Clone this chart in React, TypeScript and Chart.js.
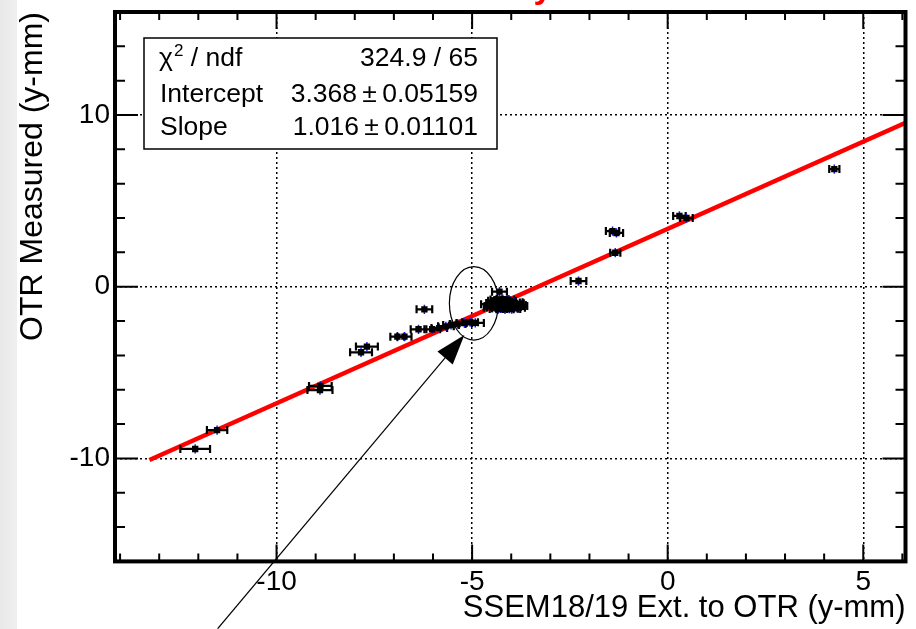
import React, { useEffect, useRef } from "react";
import { Chart, registerables } from "chart.js";

Chart.register(...registerables);

// ---- data ----
const pointX = [
  -12.08, -11.52, -8.88, -8.89, -7.84, -7.69, -6.91, -6.73, -6.22, -6.37,
  -6.02, -5.84, -5.67, -5.54, -5.37, -5.2, -5.05, -4.92,
  -4.3,
  -2.28, -1.41, -1.31, -1.34, 0.3, 0.48, 4.26,
  -4.5, -4.46, -4.42, -4.4, -4.37, -4.34, -4.31, -4.28, -4.26, -4.23,
  -4.2, -4.18, -4.15, -4.12, -4.1, -4.07, -4.05, -4.02, -4.0, -3.97,
  -3.95, -3.92, -3.9, -3.87, -3.85, -3.82, -4.48, -4.38, -4.22, -4.08,
  -4.33, -4.16, -3.99, -4.44, -4.27, -4.13, -3.93, -4.03, -4.19, -4.36, -4.11,
];
const pointY = [
  -9.45, -8.35, -5.78, -6.02, -3.82, -3.49, -2.91, -2.91, -1.32, -2.48,
  -2.48, -2.41, -2.31, -2.23, -2.17, -2.11, -2.07, -2.11,
  -0.29,
  0.33, 3.24, 3.13, 1.98, 4.12, 4.0, 6.85,
  -1.02, -1.12, -0.95, -1.2, -1.08, -0.85, -1.0, -1.16, -0.78, -1.1,
  -0.93, -1.24, -1.03, -0.88, -1.14, -0.99, -1.28, -1.06, -0.92, -1.18,
  -1.02, -1.12, -0.97, -1.22, -1.06, -1.12, -1.22, -0.74, -0.72, -0.76,
  -1.3, -1.32, -1.3, -0.82, -1.26, -1.2, -0.9, -0.84, -1.06, -0.98, -1.1,
];
const pointXErr = [
  0.38, 0.26, 0.29, 0.32, 0.28, 0.28, 0.18, 0.18, 0.2, 0.2,
  0.2, 0.2, 0.2, 0.2, 0.2, 0.2, 0.2, 0.22,
  0.19,
  0.2, 0.17, 0.17, 0.13, 0.16, 0.16, 0.13,
  0.27, 0.22, 0.22, 0.22, 0.22, 0.15, 0.22, 0.22, 0.15, 0.22,
  0.22, 0.22, 0.22, 0.15, 0.22, 0.22, 0.22, 0.22, 0.22, 0.22,
  0.22, 0.22, 0.22, 0.22, 0.22, 0.23, 0.22, 0.15, 0.15, 0.15,
  0.22, 0.22, 0.22, 0.15, 0.22, 0.22, 0.22, 0.15, 0.22, 0.22, 0.22,
];
const pointYErrAll = 0.27;

const fitIntercept = 3.368;
const fitSlope = 1.016;
const fitXRange = [-13.25, 6.08];

const xRange = [-14.13, 6.08];
const yRange = [-16, 16];
const xTickStep = 5;
const yTickStep = 10;

const xTitle = "SSEM18/19 Ext. to OTR (y-mm)";
const yTitle = "OTR Measured (y-mm)";
const statsLabels = ["χ", "Intercept", "Slope"];
const statsValues = ["324.9 / 65", "3.368\u2009±\u20090.05159", "1.016\u2009±\u20090.01101"];

// annotation (data coordinates)
const ellipseCenter = [-4.955, -0.967];
const ellipseRadii = [0.626, 2.14];
const arrowStart = [-11.505, -19.92];
const arrowTip = [-5.198, -2.813];

const FONT = "'Liberation Sans', Arial, Helvetica, sans-serif";

const backgroundPlugin = {
  id: "bgPlugin",
  beforeDraw(chart: any) {
    const { ctx, width, height } = chart;
    ctx.save();
    ctx.fillStyle = "#ffffff";
    ctx.fillRect(0, 0, width, height);
    const g = ctx.createLinearGradient(0, 0, 17, 0);
    g.addColorStop(0, "#e9e9e9");
    g.addColorStop(1, "#efefef");
    ctx.fillStyle = g;
    ctx.fillRect(0, 0, 17, height);
    // cut-off red title (only the descender remains visible)
    ctx.fillStyle = "#ff0000";
    ctx.font = `bold 34px ${FONT}`;
    ctx.textAlign = "center";
    ctx.textBaseline = "alphabetic";
    ctx.fillText("y", 543, -2);
    ctx.restore();
  },
};

const errorBarPlugin = {
  id: "errorBars",
  beforeDatasetDraw(chart: any, args: any) {
    if (args.index !== 1) return;
    const { ctx, chartArea: a, scales } = chart;
    const x = scales.x;
    const y = scales.y;
    ctx.save();
    ctx.beginPath();
    ctx.rect(a.left, a.top, a.right - a.left, a.bottom - a.top);
    ctx.clip();
    for (let i = 0; i < pointX.length; i++) {
      const cy = y.getPixelForValue(pointY[i]);
      const cx = x.getPixelForValue(pointX[i]);
      const x0 = x.getPixelForValue(pointX[i] - pointXErr[i]);
      const x1 = x.getPixelForValue(pointX[i] + pointXErr[i]);
      ctx.strokeStyle = "#000";
      ctx.lineWidth = 2.2;
      ctx.beginPath();
      ctx.moveTo(x0, cy);
      ctx.lineTo(x1, cy);
      ctx.moveTo(x0, cy - 4);
      ctx.lineTo(x0, cy + 4);
      ctx.moveTo(x1, cy - 4);
      ctx.lineTo(x1, cy + 4);
      ctx.stroke();
      const y0 = y.getPixelForValue(pointY[i] + pointYErrAll);
      const y1 = y.getPixelForValue(pointY[i] - pointYErrAll);
      ctx.strokeStyle = "#1a1aff";
      ctx.lineWidth = 1.5;
      ctx.beginPath();
      ctx.moveTo(cx, y0);
      ctx.lineTo(cx, y1);
      ctx.stroke();
    }
    ctx.restore();
  },
};

const frameAndAnnotations = {
  id: "frameAnno",
  afterDraw(chart: any) {
    const { ctx, chartArea: a, scales } = chart;
    const x = scales.x;
    const y = scales.y;
    ctx.save();
    // inner ticks
    ctx.strokeStyle = "#000";
    ctx.lineWidth = 2;
    ctx.beginPath();
    for (let v = Math.ceil(x.min); v <= Math.floor(x.max); v++) {
      const px = x.getPixelForValue(v);
      const len = v % 5 === 0 ? 17 : 8;
      ctx.moveTo(px, a.bottom);
      ctx.lineTo(px, a.bottom - len);
      ctx.moveTo(px, a.top);
      ctx.lineTo(px, a.top + len);
    }
    for (let v = yRange[0] + 2; v < yRange[1]; v += 2) {
      const py = y.getPixelForValue(v);
      const len = v % 10 === 0 ? 23 : 10;
      ctx.moveTo(a.left, py);
      ctx.lineTo(a.left + len, py);
      ctx.moveTo(a.right, py);
      ctx.lineTo(a.right - len, py);
    }
    ctx.stroke();
    // frame
    ctx.lineWidth = 4;
    ctx.strokeRect(a.left, a.top, a.right - a.left, a.bottom - a.top);

    // stats box
    const bx = 144, by = 38, bw = 353, bh = 111;
    ctx.fillStyle = "#fff";
    ctx.fillRect(bx, by, bw, bh);
    ctx.lineWidth = 1.5;
    ctx.strokeStyle = "#000";
    ctx.strokeRect(bx, by, bw, bh);
    ctx.fillStyle = "#000";
    const baselines = [65.5, 101.5, 135];
    const fs = 26.5;
    ctx.textBaseline = "alphabetic";
    for (let i = 0; i < 3; i++) {
      ctx.font = `${fs}px ${FONT}`;
      ctx.textAlign = "left";
      if (i === 0) {
        ctx.fillText(statsLabels[0], 159, baselines[0]);
        const w = ctx.measureText(statsLabels[0]).width;
        ctx.font = `17px ${FONT}`;
        ctx.fillText("2", 159 + w + 1, baselines[0] - 10);
        const w2 = ctx.measureText("2").width;
        ctx.font = `${fs}px ${FONT}`;
        ctx.fillText(" / ndf", 159 + w + 1 + w2, baselines[0]);
      } else {
        ctx.fillText(statsLabels[i], 160, baselines[i]);
      }
      ctx.textAlign = "right";
      ctx.fillText(statsValues[i], 478, baselines[i]);
    }

    // ellipse
    const ecx = x.getPixelForValue(ellipseCenter[0]);
    const ecy = y.getPixelForValue(ellipseCenter[1]);
    const erx = Math.abs(x.getPixelForValue(ellipseCenter[0] + ellipseRadii[0]) - ecx);
    const ery = Math.abs(y.getPixelForValue(ellipseCenter[1] + ellipseRadii[1]) - ecy);
    ctx.lineWidth = 1.2;
    ctx.beginPath();
    ctx.ellipse(ecx, ecy, erx, ery, 0, 0, Math.PI * 2);
    ctx.stroke();

    // arrow
    const sx = x.getPixelForValue(arrowStart[0]);
    const sy = y.getPixelForValue(arrowStart[1]);
    const tx = x.getPixelForValue(arrowTip[0]);
    const ty = y.getPixelForValue(arrowTip[1]);
    const ang = Math.atan2(ty - sy, tx - sx);
    const hl = 30, hw = 10;
    const bxm = tx - hl * Math.cos(ang);
    const bym = ty - hl * Math.sin(ang);
    ctx.lineWidth = 1.2;
    ctx.beginPath();
    ctx.moveTo(sx, sy);
    ctx.lineTo(bxm, bym);
    ctx.stroke();
    ctx.beginPath();
    ctx.moveTo(tx, ty);
    ctx.lineTo(bxm + hw * Math.sin(ang), bym - hw * Math.cos(ang));
    ctx.lineTo(bxm - hw * Math.sin(ang), bym + hw * Math.cos(ang));
    ctx.closePath();
    ctx.fill();
    ctx.restore();
  },
};

export default function App() {
  const ref = useRef<HTMLCanvasElement | null>(null);
  useEffect(() => {
    if (!ref.current) return;
    const points = pointX.map((v, i) => ({ x: v, y: pointY[i] }));
    const fit = fitXRange.map((v) => ({ x: v, y: fitIntercept + fitSlope * v }));
    const chart = new Chart(ref.current, {
      type: "scatter",
      data: {
        datasets: [
          {
            label: "fit",
            data: fit,
            showLine: true,
            borderColor: "#ff0000",
            borderWidth: 4.5,
            pointRadius: 0,
            order: 2,
          },
          {
            label: "points",
            data: points,
            pointStyle: "rect",
            pointRadius: 4.5,
            pointBackgroundColor: "#000",
            pointBorderWidth: 0,
            order: 1,
          },
        ],
      } as any,
      options: {
        responsive: false,
        animation: false,
        devicePixelRatio: 1,
        layout: { padding: { top: 12, right: 10.5, left: 0, bottom: 0 } },
        plugins: {
          legend: { display: false },
          tooltip: { enabled: false },
        },
        scales: {
          x: {
            type: "linear",
            min: xRange[0],
            max: xRange[1],
            afterFit: (s: any) => {
              s.height = 67.6;
              s.paddingLeft = 0;
              s.paddingRight = 0;
            },
            ticks: {
              stepSize: xTickStep,
              includeBounds: false,
              autoSkip: false,
              maxRotation: 0,
              padding: 4,
              color: "#000",
              font: { family: FONT, size: 28 },
            },
            grid: { color: "#000", lineWidth: 1.5, drawTicks: false },
            border: { display: false, dash: [2, 3] },
            title: {
              display: true,
              text: xTitle,
              align: "end",
              color: "#000",
              font: { family: FONT, size: 31 },
              padding: { top: 0, bottom: 2 },
            },
          },
          y: {
            type: "linear",
            min: yRange[0],
            max: yRange[1],
            afterFit: (s: any) => {
              s.width = 115;
              s.paddingTop = 0;
              s.paddingBottom = 0;
            },
            ticks: {
              stepSize: yTickStep,
              includeBounds: false,
              autoSkip: false,
              padding: 5,
              color: "#000",
              font: { family: FONT, size: 28 },
            },
            grid: { color: "#000", lineWidth: 1.5, drawTicks: false },
            border: { display: false, dash: [2, 3] },
            title: {
              display: true,
              text: yTitle,
              align: "end",
              color: "#000",
              font: { family: FONT, size: 32 },
              padding: { top: 14, bottom: 0 },
            },
          },
        },
      } as any,
      plugins: [backgroundPlugin, errorBarPlugin, frameAndAnnotations],
    });
    return () => chart.destroy();
  }, []);
  return (
    <div style={{ position: "fixed", left: 0, top: 0, width: 916, height: 629 }}>
      <canvas ref={ref} width={916} height={629} style={{ width: 916, height: 629, display: "block" }} />
    </div>
  );
}
